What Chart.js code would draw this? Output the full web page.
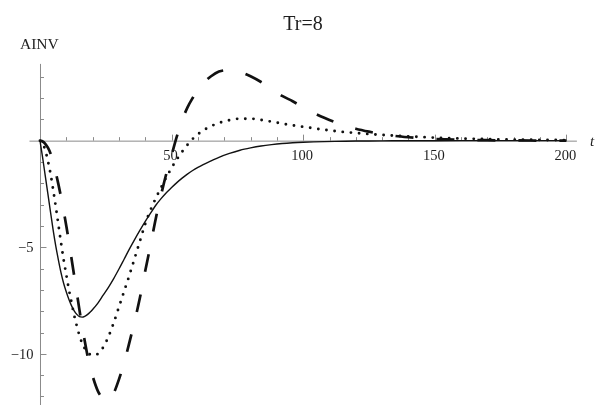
<!DOCTYPE html>
<html>
<head>
<meta charset="utf-8">
<script src="https://cdn.jsdelivr.net/npm/chart.js@4/dist/chart.umd.min.js"></script>
<style>
html,body{margin:0;padding:0;background:#fff;}
#wrap{width:601px;height:405px;position:relative;}
</style>
</head>
<body>
<div id="wrap"><canvas id="c" width="601" height="405"></canvas></div>
<script>
// ---- data ----
const tValues = [0,1,2,3,4,5,6,7,8,9,10,11,12,13,14,15,16,17,18,19,20,22,24,26,28,30,32,34,36,38,40,42,44,46,48,50,52,54,56,58,60,62,65,68,72,76,80,84,88,92,96,100,104,108,112,116,120,125,130,135,140,145,150,160,170,180,190,200];

const solidValues = [0,-0.8,-1.65,-2.5,-3.35,-4.2,-4.95,-5.6,-6.2,-6.7,-7.1,-7.45,-7.75,-7.98,-8.15,-8.26,-8.28,-8.24,-8.16,-8.05,-7.92,-7.62,-7.25,-6.88,-6.47,-6.02,-5.55,-5.08,-4.63,-4.2,-3.79,-3.4,-3.03,-2.72,-2.44,-2.2,-1.97,-1.76,-1.57,-1.4,-1.25,-1.12,-0.95,-0.78,-0.6,-0.45,-0.34,-0.25,-0.185,-0.135,-0.1,-0.075,-0.057,-0.044,-0.034,-0.026,-0.02,-0.014,-0.01,-0.007,-0.005,-0.003,-0.002,-0.001,0,0,0,0];

const dottedValues = [0,-0.12,-0.45,-0.95,-1.55,-2.3,-3.1,-3.95,-4.8,-5.6,-6.3,-7.0,-7.6,-8.2,-8.7,-9.15,-9.5,-9.75,-9.92,-10.03,-10.07,-10.0,-9.7,-9.2,-8.55,-7.8,-7.05,-6.3,-5.5,-4.7,-3.9,-3.25,-2.7,-2.2,-1.72,-1.28,-0.88,-0.52,-0.2,0.08,0.3,0.48,0.68,0.83,0.96,1.03,1.03,0.97,0.89,0.8,0.72,0.65,0.58,0.51,0.45,0.4,0.36,0.31,0.27,0.23,0.2,0.17,0.14,0.1,0.07,0.05,0.035,0.025];

const dashedValues = [0,-0.04,-0.15,-0.33,-0.6,-1.0,-1.5,-2.05,-2.65,-3.3,-4.0,-4.75,-5.55,-6.35,-7.15,-7.95,-8.7,-9.4,-10.05,-10.6,-11.05,-11.75,-12.1,-12.2,-11.85,-11.2,-10.4,-9.45,-8.45,-7.35,-6.1,-4.9,-3.65,-2.55,-1.55,-0.68,0.2,0.95,1.55,2.0,2.38,2.7,3.02,3.24,3.31,3.22,3.02,2.75,2.43,2.1,1.85,1.56,1.3,1.07,0.87,0.7,0.56,0.42,0.3,0.22,0.16,0.11,0.08,0.04,0.02,0.01,0.005,0];

const xTickLabels = [50,100,150,200];
const xMinorTicks = [10,20,30,40,50,60,70,80,90,100,110,120,130,140,150,160,170,180,190,200];
const yTickLabels = [-5,-10];
const yMinorTicks = [3,2,1,-1,-2,-3,-4,-5,-6,-7,-8,-9,-10,-11,-12];
const titleText = "Tr=8";
const yAxisTitle = "AINV";
const xAxisTitle = "t";

// ---- build datasets ----
function pts(vals){ return tValues.map((t,i)=>({x:t,y:vals[i]})); }

const SERIF = '"Liberation Serif","DejaVu Serif",serif';
const axisColor = '#8a8a8a';
const textColor = '#1e1e1e';

const axesPlugin = {
  id:'mmaAxes',
  beforeDatasetsDraw(chart){
    const ctx = chart.ctx, xs = chart.scales.x, ys = chart.scales.y, a = chart.chartArea;
    const x0 = xs.getPixelForValue(0), y0 = ys.getPixelForValue(0);
    ctx.save();
    ctx.strokeStyle = axisColor;
    ctx.lineWidth = 1;
    ctx.beginPath();
    ctx.moveTo(a.left, y0 + 0.5); ctx.lineTo(a.right, y0 + 0.5);
    ctx.moveTo(x0 + 0.5, a.top); ctx.lineTo(x0 + 0.5, a.bottom);
    ctx.stroke();
    // ticks
    ctx.beginPath();
    xMinorTicks.forEach(v=>{
      const px = Math.round(xs.getPixelForValue(v)) + 0.5;
      const len = (v % 50 === 0) ? 6 : 3.5;
      ctx.moveTo(px, y0); ctx.lineTo(px, y0 - len);
    });
    yMinorTicks.forEach(v=>{
      const py = Math.round(ys.getPixelForValue(v)) + 0.5;
      const len = (v % 5 === 0) ? 6.5 : 4;
      ctx.moveTo(x0, py); ctx.lineTo(x0 + len, py);
    });
    ctx.stroke();
    // labels
    ctx.fillStyle = textColor;
    ctx.font = '14.5px ' + SERIF;
    ctx.textAlign = 'center';
    ctx.textBaseline = 'alphabetic';
    xTickLabels.forEach(v=>{
      ctx.fillText(String(v), xs.getPixelForValue(v) - 1, y0 + 19.5);
    });
    ctx.textAlign = 'right';
    ctx.textBaseline = 'middle';
    yTickLabels.forEach(v=>{
      ctx.fillText('\u2212' + String(Math.abs(v)), x0 - 6.5, ys.getPixelForValue(v) + 1);
    });
    ctx.textAlign = 'left';
    ctx.font = 'italic 15px ' + SERIF;
    ctx.fillText(xAxisTitle, a.right + 13, y0 + 1.5);
    ctx.font = '15.5px ' + SERIF;
    ctx.textBaseline = 'alphabetic';
    ctx.fillText(yAxisTitle, 20, 49);
    ctx.font = '20px ' + SERIF;
    ctx.textAlign = 'center';
    ctx.fillText(titleText, 303, 30);
    ctx.restore();
  }
};

new Chart(document.getElementById('c'), {
  type:'line',
  data:{
    datasets:[
      {label:'solid', data:pts(solidValues), borderColor:'#111', borderWidth:1.4, pointRadius:0, fill:false, cubicInterpolationMode:'monotone', clip:false},
      {label:'dotted', data:pts(dottedValues), borderColor:'#111', borderWidth:2.9, borderDash:[0,8.2], borderCapStyle:'round', pointRadius:0, fill:false, cubicInterpolationMode:'monotone', clip:false},
      {label:'dashed', data:pts(dashedValues), borderColor:'#111', borderWidth:2.7, borderDash:[18,23], borderCapStyle:'butt', pointRadius:0, fill:false, cubicInterpolationMode:'monotone', clip:false}
    ]
  },
  options:{
    responsive:false,
    animation:false,
    devicePixelRatio:1,
    layout:{padding:{left:29.47, right:24.1, top:63.9, bottom:0}},
    plugins:{legend:{display:false}, title:{display:false}, tooltip:{enabled:false}},
    scales:{
      x:{type:'linear', min:-4, max:204, display:false},
      y:{type:'linear', min:-12.4, max:3.6, display:false}
    }
  },
  plugins:[axesPlugin]
});
</script>
</body>
</html>
